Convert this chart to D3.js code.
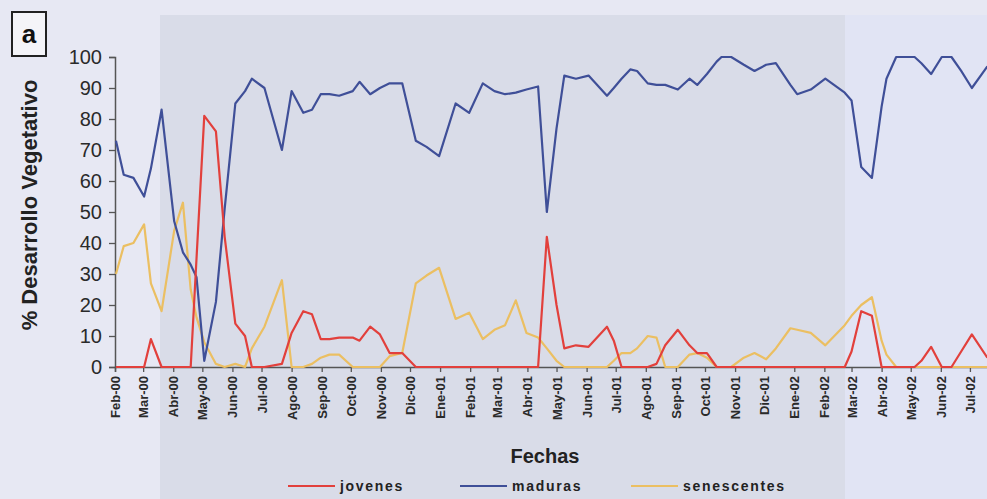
<!DOCTYPE html>
<html>
<head>
<meta charset="utf-8">
<script src="https://cdn.jsdelivr.net/npm/d3@7"></script>
<style>
  html, body { margin: 0; padding: 0; background: #e6e8f3; }
  svg { display: block; font-family: Arial, "Liberation Sans", sans-serif; }
</style>
</head>
<body>
<div id="chart"></div>
<script>
// sampling dates and % per leaf class
const fechas = [
  "2000-02-02","2000-02-10","2000-02-20","2000-03-02","2000-03-09","2000-03-20","2000-04-02","2000-04-11",
  "2000-04-19","2000-04-25","2000-05-03","2000-05-15","2000-05-24","2000-06-04","2000-06-14","2000-06-21",
  "2000-07-04","2000-07-22","2000-08-01","2000-08-13","2000-08-22","2000-08-31","2000-09-09","2000-09-19",
  "2000-10-03","2000-10-10","2000-10-21","2000-10-31","2000-11-10","2000-11-23","2000-12-07","2000-12-18",
  "2000-12-31","2001-01-17","2001-01-31","2001-02-14","2001-02-26","2001-03-09","2001-03-20","2001-03-31",
  "2001-04-12","2001-04-21","2001-05-01","2001-05-09","2001-05-21","2001-06-03","2001-06-22","2001-06-29",
  "2001-07-07","2001-07-16","2001-07-23","2001-08-03","2001-08-12","2001-08-21","2001-09-03","2001-09-15",
  "2001-09-23","2001-10-03","2001-10-13","2001-10-18","2001-10-28","2001-11-10","2001-11-21","2001-12-03",
  "2001-12-13","2001-12-28","2002-01-04","2002-01-18","2002-02-02","2002-02-22","2002-03-01","2002-03-11",
  "2002-03-22","2002-04-01","2002-04-06","2002-04-16","2002-05-05","2002-05-12","2002-05-22","2002-06-02",
  "2002-06-12","2002-06-22","2002-07-03","2002-07-19"
];
const jovenes = [
  0, 0, 0, 0, 9, 0, 0, 0, 0, 35, 81, 76, 42, 14, 10, 0,
  0, 1, 11, 18, 17, 9, 9, 9.5, 9.5, 8.5, 13, 10.5, 4.5, 4.5, 0, 0,
  0, 0, 0, 0, 0, 0, 0, 0, 0, 42, 20, 6, 7, 6.5, 13, 8.5,
  0, 0, 0, 0, 1, 7, 12, 7, 4.5, 4.5, 0, 0, 0, 0, 0, 0,
  0, 0, 0, 0, 0, 0, 5, 18, 16.5, 0, 0, 0, 0, 2, 6.5, 0,
  0, 5, 10.5, 3
];
const maduras = [
  73, 62, 61, 55, 64, 83, 47, 37, 33, 29, 2, 21, 51, 85, 89, 93,
  90, 70, 89, 82, 83, 88, 88, 87.5, 89, 92, 88, 90, 91.5, 91.5, 73, 71,
  68, 85, 82, 91.5, 89, 88, 88.5, 89.5, 90.5, 50, 77, 94, 93, 94, 87.5, 90,
  93, 96, 95.5, 91.5, 91, 91, 89.5, 93, 91, 94.5, 98.5, 100, 100, 97.5, 95.5, 97.5,
  98, 91, 88, 89.5, 93, 88.5, 86, 64.5, 61, 84, 93, 100, 100, 98, 94.5, 100,
  100, 95.5, 90, 97
];
const senescentes = [
  30, 39, 40, 46, 27, 18, 44, 53, 25, 16, 8, 1, 0, 1, 0, 6,
  13, 28, 0, 0, 1, 3, 4, 4, 0, 0, 0, 0, 3.5, 4.5, 27, 29.5,
  32, 15.5, 17.5, 9, 12, 13.5, 21.5, 11, 9.5, 6, 2, 0, 0, 0, 0, 2,
  4.5, 4.5, 6, 10, 9.5, 0, 0, 4, 4.5, 3, 0, 0, 0, 3, 4.5, 2.5,
  6, 12.5, 12, 11, 7, 13.5, 16.5, 20, 22.5, 8.5, 4, 0, 0, 0, 0, 0,
  0, 0, 0, 0
];
const yTicks = [0, 10, 20, 30, 40, 50, 60, 70, 80, 90, 100];
const meses = ["Ene","Feb","Mar","Abr","May","Jun","Jul","Ago","Sep","Oct","Nov","Dic"];
const series = [
  { name: "jovenes", values: jovenes, color: "#e2403c" },
  { name: "maduras", values: maduras, color: "#3f4f98" },
  { name: "senescentes", values: senescentes, color: "#ebbf62" }
];

const width = 987, height = 499;
const parse = d3.timeParse("%Y-%m-%d");
const dates = fechas.map(parse);

const svg = d3.select("#chart").append("svg")
  .attr("width", width)
  .attr("height", height);

// scanned-page look: light page with a darker copied panel
svg.append("rect").attr("width", width).attr("height", height).attr("fill", "#e7e8f3");
svg.append("rect").attr("x", 160).attr("y", 15).attr("width", 685).attr("height", height - 15).attr("fill", "#d9dce8");
svg.append("rect").attr("x", 845).attr("y", 15).attr("width", width - 845).attr("height", height - 15).attr("fill", "#e1e4f4");

const x = d3.scaleTime()
  .domain([new Date(2000, 1, 1), new Date(2002, 7, 1)])
  .range([115, 1000]);
const y = d3.scaleLinear().domain([0, 100]).range([367, 57]);

// y axis
const yAxis = svg.append("g")
  .attr("transform", "translate(115,0)")
  .call(d3.axisLeft(y).tickValues(yTicks).tickSize(6).tickPadding(7));
yAxis.select(".domain").attr("stroke", "#555").attr("stroke-width", 1.5);
yAxis.selectAll(".tick line").attr("stroke", "#555").attr("stroke-width", 1.3);
yAxis.selectAll(".tick text")
  .attr("fill", "#2a2a2a")
  .style("font-size", "20px");

// x axis, one tick per month
const months = d3.timeMonth.range(new Date(2000, 1, 1), new Date(2002, 7, 1));
const xAxis = svg.append("g")
  .attr("transform", "translate(0,367)")
  .call(d3.axisBottom(x)
    .tickValues(months)
    .tickSize(5)
    .tickFormat(d => meses[d.getMonth()] + "-" + String(d.getFullYear()).slice(2)));
xAxis.select(".domain").attr("stroke", "#555").attr("stroke-width", 1.5);
xAxis.selectAll(".tick line").attr("stroke", "#555").attr("stroke-width", 1.3);
xAxis.selectAll(".tick text")
  .attr("fill", "#2a2a2a")
  .attr("transform", "rotate(-90)")
  .attr("text-anchor", "end")
  .attr("x", -9)
  .attr("y", 0)
  .attr("dy", "0.35em")
  .style("font-size", "13px")
  .style("font-weight", "bold");

// lines
const line = d3.line()
  .x((d, i) => x(dates[i]))
  .y(d => y(d));

const drawOrder = [series[2], series[1], series[0]];
svg.append("g").selectAll("path")
  .data(drawOrder)
  .join("path")
  .attr("fill", "none")
  .attr("stroke", d => d.color)
  .attr("stroke-width", 2.2)
  .attr("stroke-linejoin", "round")
  .attr("d", d => line(d.values));

// axis titles
svg.append("text")
  .attr("x", 545).attr("y", 463)
  .attr("text-anchor", "middle")
  .attr("fill", "#222")
  .style("font-size", "20px").style("font-weight", "bold")
  .text("Fechas");

svg.append("text")
  .attr("transform", "translate(37,205) rotate(-90)")
  .attr("text-anchor", "middle")
  .attr("fill", "#222")
  .style("font-size", "22px").style("font-weight", "bold")
  .text("% Desarrollo Vegetativo");

// panel label
svg.append("rect")
  .attr("x", 12).attr("y", 12).attr("width", 34).attr("height", 44)
  .attr("fill", "#f4f4f8").attr("stroke", "#222").attr("stroke-width", 2);
svg.append("text")
  .attr("x", 29).attr("y", 43)
  .attr("text-anchor", "middle")
  .attr("fill", "#111")
  .style("font-size", "26px").style("font-weight", "bold")
  .text("a");

// legend
const legendX = [288, 460, 631];
const legend = svg.append("g").selectAll("g")
  .data(series)
  .join("g")
  .attr("transform", (d, i) => `translate(${legendX[i]},486)`);
legend.append("line")
  .attr("x1", 0).attr("x2", 47)
  .attr("stroke", d => d.color).attr("stroke-width", 2.2);
legend.append("text")
  .attr("x", 52).attr("y", 5)
  .attr("fill", "#222")
  .style("font-size", "14px").style("font-weight", "bold")
  .style("letter-spacing", "1.7px")
  .text(d => d.name);
</script>
</body>
</html>
